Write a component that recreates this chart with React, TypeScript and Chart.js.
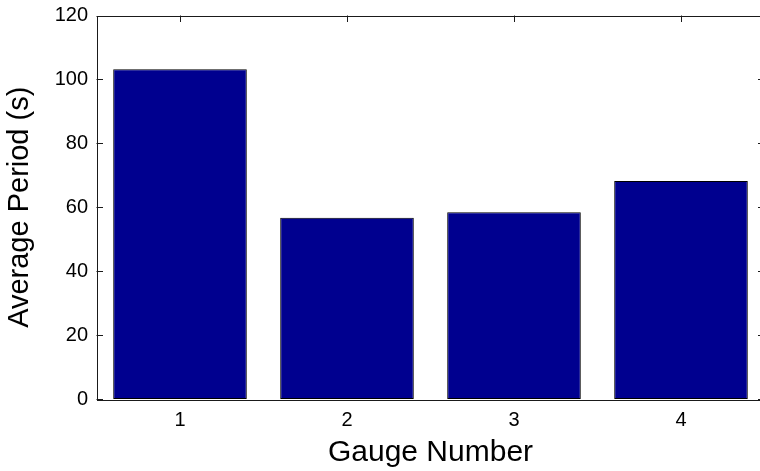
import { useEffect, useRef } from "react"
import { Chart, registerables } from "chart.js"

Chart.register(...registerables)

// data
const gauges = ["1", "2", "3", "4"]
const avgPeriod = [103.2, 56.7, 58.4, 68.2]
const yTicks = [0, 20, 40, 60, 80, 100, 120]

const FONT = "'Liberation Sans', Arial, Helvetica, sans-serif"
const TICK_LEN = 6.5

// MATLAB-like box with inward ticks on all four sides
const framePlugin = {
  id: "matlabFrame",
  beforeDatasetsDraw(chart: Chart) {
    const { ctx, chartArea } = chart
    const x = chart.scales.x
    const y = chart.scales.y
    const { left, right, top, bottom } = chartArea
    ctx.save()
    ctx.strokeStyle = "#1a1a1a"
    ctx.lineWidth = 1
    ctx.beginPath()
    yTicks.forEach((v) => {
      const py = Math.round(y.getPixelForValue(v)) + 0.5
      ctx.moveTo(left, py)
      ctx.lineTo(left + TICK_LEN, py)
      ctx.moveTo(right, py)
      ctx.lineTo(right - TICK_LEN, py)
    })
    gauges.forEach((_, i) => {
      const px = Math.round(x.getPixelForTick(i)) + 0.5
      ctx.moveTo(px, top)
      ctx.lineTo(px, top + TICK_LEN)
      ctx.moveTo(px, bottom)
      ctx.lineTo(px, bottom - TICK_LEN)
    })
    ctx.stroke()
    ctx.restore()
  },
  afterDraw(chart: Chart) {
    const { ctx, chartArea } = chart
    const { left, right, top, bottom } = chartArea
    ctx.save()
    ctx.strokeStyle = "#1a1a1a"
    ctx.lineWidth = 1
    ctx.strokeRect(Math.round(left) + 0.5, Math.round(top) + 0.5, Math.round(right - left), Math.round(bottom - top))
    ctx.restore()
  },
}

function GaugeChart() {
  const canvasRef = useRef<HTMLCanvasElement>(null)

  useEffect(() => {
    document.body.style.margin = "0"
    if (!canvasRef.current) return
    const chart = new Chart(canvasRef.current, {
      type: "bar",
      data: {
        labels: gauges,
        datasets: [
          {
            data: avgPeriod,
            backgroundColor: "#00008F",
            borderColor: "#000000",
            borderWidth: 1,
            borderSkipped: false,
            barPercentage: 0.8,
            categoryPercentage: 1,
          },
        ],
      },
      options: {
        responsive: false,
        devicePixelRatio: 1,
        animation: false,
        layout: { padding: { left: 0, top: 15.5, right: 15.5, bottom: 0 } },
        plugins: {
          legend: { display: false },
          tooltip: { enabled: false },
        },
        scales: {
          x: {
            offset: true,
            grid: { display: false, drawTicks: false },
            border: { display: false },
            ticks: {
              color: "#000",
              padding: 9.5,
              font: { family: FONT, size: 20 },
            },
            title: {
              display: true,
              text: "Gauge Number",
              color: "#000",
              font: { family: FONT, size: 30, lineHeight: 1.2 },
              padding: { top: 0, bottom: 0.5 },
            },
            afterFit: (scale) => {
              scale.height = 72
              scale.paddingLeft = 0
              scale.paddingRight = 0
            },
          },
          y: {
            min: 0,
            max: 120,
            grid: { display: false, drawTicks: false },
            border: { display: false },
            ticks: {
              stepSize: 20,
              color: "#000",
              padding: 8.5,
              font: { family: FONT, size: 20 },
            },
            title: {
              display: true,
              text: "Average Period (s)",
              color: "#000",
              font: { family: FONT, size: 29, lineHeight: 1.2 },
              padding: { top: 2.6, bottom: 0 },
            },
            afterFit: (scale) => {
              scale.width = 96.5
              scale.paddingTop = 0
              scale.paddingBottom = 0
            },
          },
        },
      },
      plugins: [framePlugin],
    })
    return () => chart.destroy()
  }, [])

  return (
    <div style={{ width: 760, height: 471, overflow: "hidden", position: "relative", background: "#fff" }}>
      <canvas ref={canvasRef} width={780} height={471} style={{ width: 780, height: 471 }} />
    </div>
  )
}

export default function App() {
  return <GaugeChart />
}
